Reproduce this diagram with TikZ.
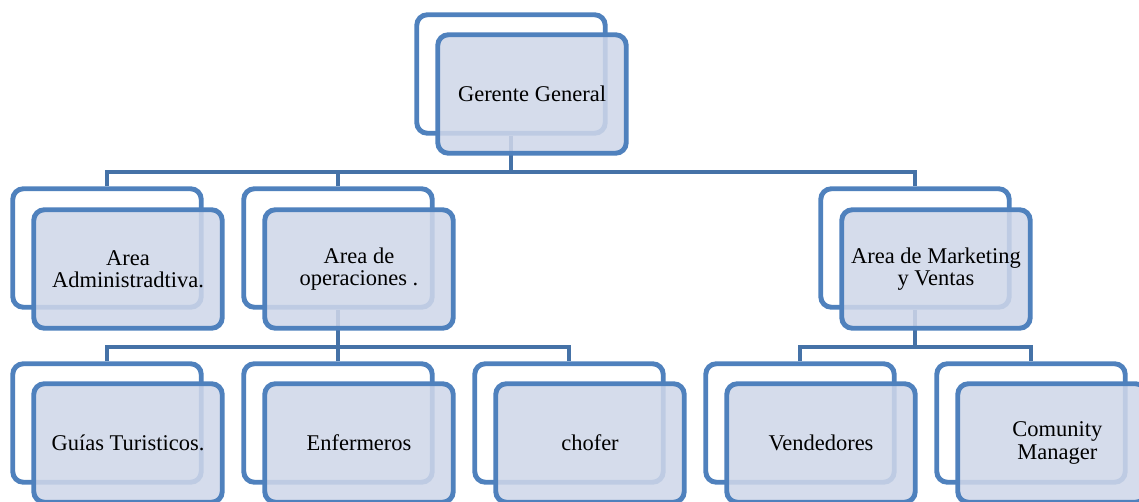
\documentclass[tikz,border=0pt]{standalone}
\usepackage{fontspec}
\setmainfont{Liberation Serif}
\pgfdeclarelayer{bg}
\pgfsetlayers{bg,main}
\definecolor{bordc}{RGB}{79,129,189}
\definecolor{linec}{RGB}{69,114,167}
\definecolor{frontc}{RGB}{207,215,233}
\tikzset{
  boxbase/.style={draw=bordc, line width=2.8pt, rounded corners=6pt, minimum width=3.77cm, minimum height=2.37cm, inner sep=0pt},
  backbox/.style={boxbase, fill=white},
  frontbox/.style={boxbase, fill=frontc, fill opacity=0.87, text opacity=1, align=center, font=\fontsize{12.8}{12.6}\selectfont},
  conn/.style={draw=linec, line width=2.3pt}
}
\begin{document}
\begin{tikzpicture}[x=0.02cm, y=-0.02cm]
\useasboundingbox (0,0) rectangle (1139,501);
\clip (0,0) rectangle (1139,501);
% back boxes
\node[backbox] (gb) at (511,74) {};
\node[backbox] (ab) at (107,248) {};
\node[backbox] (ob) at (338,248) {};
\node[backbox] (mb) at (915,248) {};
\node[backbox] (tb) at (107,423) {};
\node[backbox] (eb) at (338,423) {};
\node[backbox] (cb) at (569,423) {};
\node[backbox] (vb) at (800,423) {};
\node[backbox] (kb) at (1031,423) {};
% front boxes
\node[frontbox] (g) at (532,94) {Gerente General};
\node[frontbox] (a) at (128,269) {Area\\Administradtiva.};
\node[frontbox] (o) at (359,269) {Area de\\operaciones .};
\node[frontbox] (m) at (936,269) {Area de Marketing\\y Ventas};
\node[frontbox] (t) at (128,443) {Guías Turisticos.};
\node[frontbox] (e) at (359,443) {Enfermeros};
\node[frontbox] (c) at (590,443) {chofer};
\node[frontbox] (v) at (821,443) {Vendedores};
\node[frontbox] (k) at (1052,443) {\hspace*{6pt}Comunity\\\hspace*{6pt}Manager};
% connectors
\coordinate (bar1) at (0,172);
\coordinate (bar2) at (0,347);
\begin{pgfonlayer}{bg}
\draw[conn] (gb.south) -- (gb.south |- bar1);
\draw[conn] (ab.north) -- (ab.north |- bar1) -- (mb.north |- bar1) -- (mb.north);
\draw[conn] (ob.north) -- (ob.north |- bar1);
\draw[conn] (ob.south) -- (ob.south |- bar2);
\draw[conn] (tb.north) -- (tb.north |- bar2) -- (cb.north |- bar2) -- (cb.north);
\draw[conn] (eb.north) -- (eb.north |- bar2);
\draw[conn] (mb.south) -- (mb.south |- bar2);
\draw[conn] (vb.north) -- (vb.north |- bar2) -- (kb.north |- bar2) -- (kb.north);
\end{pgfonlayer}
\end{tikzpicture}
\end{document}
